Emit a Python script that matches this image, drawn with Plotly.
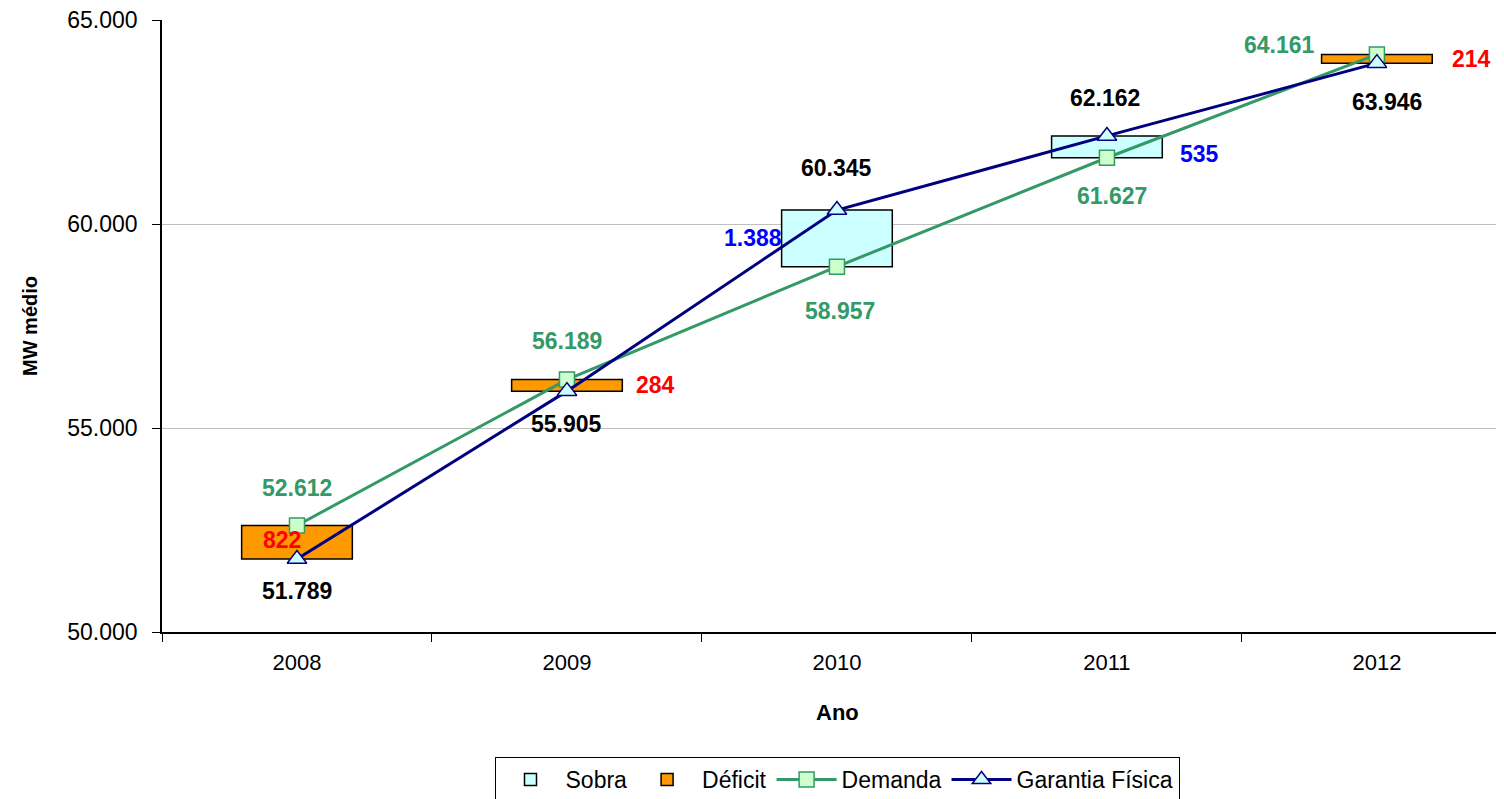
import plotly.graph_objects as go

anos = ["2008", "2009", "2010", "2011", "2012"]
demanda = [52612, 56189, 58957, 61627, 64161]
garantia = [51789, 55905, 60345, 62162, 63946]
diferenca = [822, 284, 1388, 535, 214]

def fmt(v):
    return f"{v:,.0f}".replace(",", ".")

base = [min(d, g) for d, g in zip(demanda, garantia)]
altura = [abs(d - g) for d, g in zip(demanda, garantia)]
sobra_y = [h if g > d else None for h, d, g in zip(altura, demanda, garantia)]
sobra_b = [b if g > d else None for b, d, g in zip(base, demanda, garantia)]
def_y = [h if d > g else None for h, d, g in zip(altura, demanda, garantia)]
def_b = [b if d > g else None for b, d, g in zip(base, demanda, garantia)]

GREEN = "#339966"
NAVY = "#000080"
FONT = "Liberation Sans, Arial, sans-serif"

# plot area geometry (figure pixels; page adds an 8px body margin)
L, T, PW, PH = 154, 12, 1341, 612

fig = go.Figure()
fig.add_trace(go.Bar(x=anos, y=sobra_y, base=sobra_b, name="Sobra", width=0.41,
                     marker=dict(color="#ccffff", line=dict(color="black", width=1.5))))
fig.add_trace(go.Bar(x=anos, y=def_y, base=def_b, name="Déficit", width=0.41,
                     marker=dict(color="#ff9900", line=dict(color="black", width=1.5))))
fig.add_trace(go.Scatter(x=anos, y=demanda, name="Demanda", mode="lines+markers",
                         line=dict(color=GREEN, width=3),
                         marker=dict(symbol="square", size=15, color="#ccffcc",
                                     line=dict(color=GREEN, width=1.5))))
fig.add_trace(go.Scatter(x=anos, y=garantia, name="Garantia Física", mode="lines+markers",
                         line=dict(color=NAVY, width=3),
                         marker=dict(symbol="triangle-up", size=17, color="#ccffff",
                                     line=dict(color=NAVY, width=1.5))))

# label offsets (pixels) per point
dem_off = [(0, 37), (0, 39), (3, -44), (5, -38), (-97, 9)]
gar_off = [(0, -32), (0, -33), (0, 42), (-2, 38), (10, -39)]
dif_off = [(-15, 2), (89, 0), (-84, 0), (93, -7), (95, 0)]
for i, a in enumerate(anos):
    fig.add_annotation(x=i, y=demanda[i], text="<b>" + fmt(demanda[i]) + "</b>", showarrow=False,
                       xshift=dem_off[i][0], yshift=dem_off[i][1],
                       font=dict(family=FONT, size=23, color=GREEN))
    fig.add_annotation(x=i, y=garantia[i], text="<b>" + fmt(garantia[i]) + "</b>", showarrow=False,
                       xshift=gar_off[i][0], yshift=gar_off[i][1],
                       font=dict(family=FONT, size=23, color="black"))
    col = "#0000ff" if garantia[i] > demanda[i] else "#ff0000"
    fig.add_annotation(x=i, y=base[i] + altura[i] / 2, text="<b>" + fmt(diferenca[i]) + "</b>",
                       showarrow=False, xshift=dif_off[i][0], yshift=dif_off[i][1],
                       font=dict(family=FONT, size=23, color=col))

# axis titles
fig.add_annotation(xref="paper", yref="paper", x=(22 - L) / PW, y=0.5, textangle=-90,
                   text="<b>MW médio</b>", showarrow=False, xanchor="center", yanchor="middle",
                   font=dict(family=FONT, size=20, color="black"))
fig.add_annotation(xref="paper", yref="paper", x=(829 - L) / PW, y=-(704 - (T + PH)) / PH,
                   text="<b>Ano</b>", showarrow=False, xanchor="center", yanchor="middle",
                   font=dict(family=FONT, size=22, color="black"))

fig.update_layout(
    width=1504, height=799,
    margin=dict(l=L, r=1504 - L - PW, t=T, b=799 - T - PH, autoexpand=False),
    paper_bgcolor="white", plot_bgcolor="white",
    barmode="overlay",
    separators=",.",
    font=dict(family=FONT, size=20, color="black"),
    showlegend=True,
    legend=dict(orientation="h", x=(829 - L) / PW, xanchor="center",
                y=-(749 - (T + PH)) / PH, yanchor="top",
                bordercolor="black", borderwidth=1, font=dict(size=23),
                traceorder="normal", itemwidth=60),
)
fig.update_xaxes(type="category", range=[-0.5, 4.467], showline=True, linecolor="black",
                 linewidth=1.5, ticks="outside", tickson="boundaries", ticklen=8,
                 tickcolor="black", showgrid=False, automargin=False,
                 tickfont=dict(size=22), ticklabelstandoff=10)
fig.update_yaxes(range=[50000, 65004], tickvals=[50000, 55000, 60000, 65000],
                 tickformat=",.0f", showline=True, linecolor="black", linewidth=1.5,
                 ticks="outside", ticklen=8, tickcolor="black", automargin=False,
                 showgrid=True, gridcolor="#c0c0c0", gridwidth=1, zeroline=False,
                 tickfont=dict(size=23), ticklabelstandoff=10, ticklabeloverflow="allow")

fig.write_html("out.html")
